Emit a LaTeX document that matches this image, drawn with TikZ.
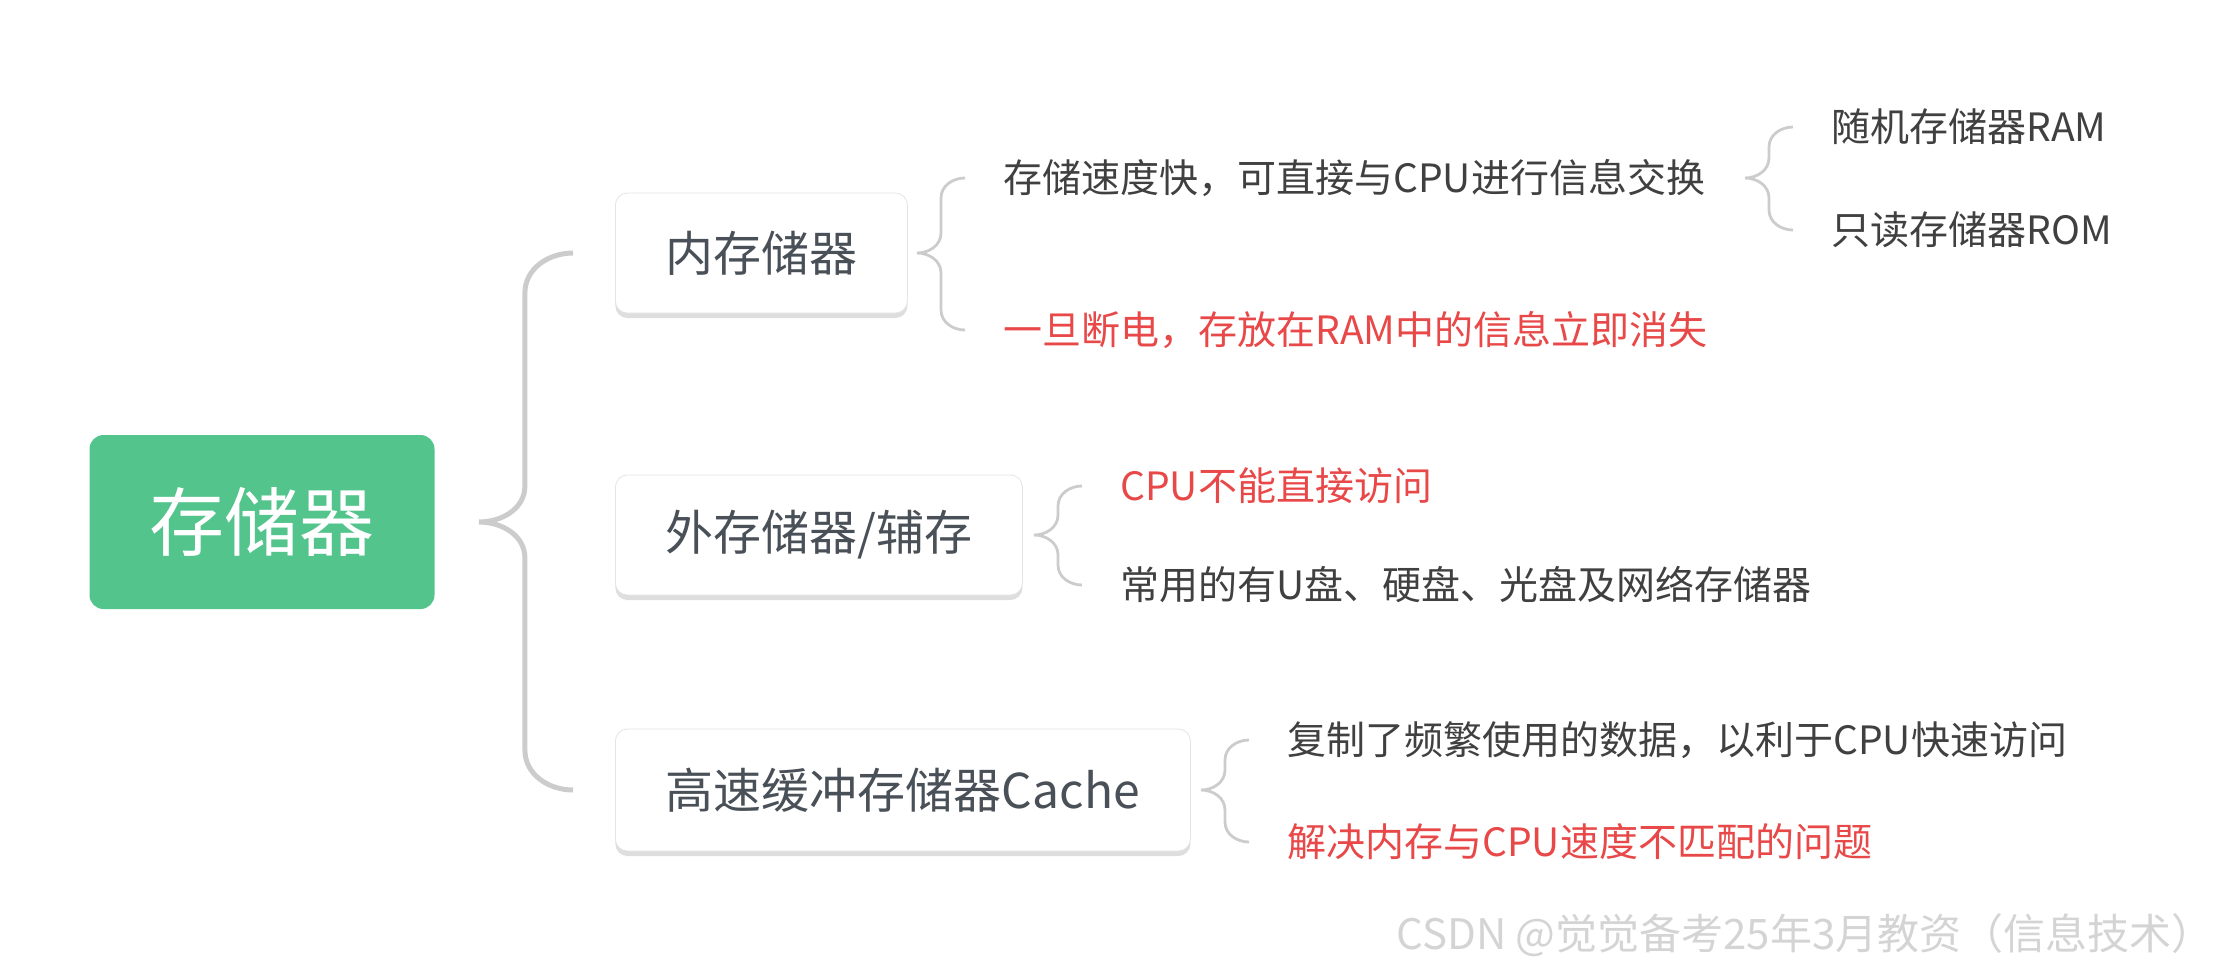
\documentclass[tikz,border=0pt]{standalone}
\usepackage{fontspec}
\setmainfont{Noto Sans CJK SC}
\usepackage{tikz}
\usetikzlibrary{positioning, calc, shadows}
\definecolor{rootgreen}{RGB}{82, 196, 140}
\definecolor{boxtext}{RGB}{73, 80, 87}
\definecolor{leaftext}{RGB}{64, 64, 64}
\definecolor{alertred}{RGB}{232, 72, 72}
\definecolor{braceline}{RGB}{204, 204, 204}
\definecolor{boxborder}{RGB}{228, 228, 228}
\definecolor{boxshadow}{RGB}{222, 222, 222}
\definecolor{markgray}{RGB}{212, 212, 212}

\begin{document}
\begin{tikzpicture}[x=0.5pt, y=-0.5pt,
    rootbox/.style={rectangle, fill=rootgreen, rounded corners=7pt, minimum width=172.5pt, minimum height=87pt, text=white, font=\fontsize{37.5pt}{45pt}\selectfont},
    subbox/.style={rectangle, draw=boxborder, fill=white, rounded corners=6pt, general shadow={fill=boxshadow, shadow yshift=-2.5pt}, minimum height=60pt, inner xsep=0pt, text=boxtext, anchor=west, font=\fontsize{24pt}{29pt}\selectfont},
    leaf/.style={anchor=west, inner sep=0pt, text=leaftext, font=\fontsize{19.5pt}{23pt}\selectfont},
    alertleaf/.style={leaf, text=alertred},
    mainbrace/.style={draw=braceline, line width=2.5pt},
    leafbrace/.style={draw=braceline, line width=1.4pt}]

    \useasboundingbox (0,0) rectangle (2239,970);

    \node [rootbox] (root) at (262,522) {存储器};

    \node [subbox, minimum width=146pt] (inner) at (615,253) {内存储器};
    \node [subbox, minimum width=203.5pt] (outer) at (615,535) {外存储器/辅存};
    \node [subbox, minimum width=287.5pt, minimum height=61pt] (cache) at (615,790) {高速缓冲存储器Cache};

    \node [leaf] (innerfast) at (1003,178) {存储速度快，可直接与CPU进行信息交换};
    \node [alertleaf] (innerlost) at (1003,330) {一旦断电，存放在RAM中的信息立即消失};
    \node [leaf] (ram) at (1831,127) {随机存储器RAM};
    \node [leaf] (rom) at (1831,230) {只读存储器ROM};

    \node [alertleaf] (outercpu) at (1120,486) {CPU不能直接访问};
    \node [leaf] (outerdisk) at (1120,585) {常用的有U盘、硬盘、光盘及网络存储器};

    \node [leaf] (cachecopy) at (1287,740) {复制了频繁使用的数据，以利于CPU快速访问};
    \node [alertleaf] (cachespeed) at (1287,842) {解决内存与CPU速度不匹配的问题};

    \node [anchor=east, inner sep=0pt, text=markgray, font=\fontsize{21pt}{25pt}\selectfont] (mark) at (2214,935) {CSDN @觉觉备考25年3月教资（信息技术）};

    % braces
    \draw [mainbrace] let \p1 = ([xshift=22pt]root.east), \p2 = ([xshift=-21pt]inner.west), \p3 = ([xshift=-21pt]cache.west) in
        (\p2) to[out=180, in=90] (\x1+23pt, \y2-20pt) -- (\x1+23pt, \y1+18pt) to[out=-90, in=0] (\p1)
        to[out=0, in=90] (\x1+23pt, \y1-18pt) -- (\x1+23pt, \y3+20pt) to[out=-90, in=180] (\p3);
    \draw [leafbrace] let \p1 = (inner.east), \p2 = ([xshift=-19pt]innerfast.west), \p3 = ([xshift=-19pt]innerlost.west) in
        (\p2) to[out=180, in=90] (\x2-12pt, \y2-10pt) -- (\x2-12pt, \y1+10pt) to[out=-90, in=0] (\x2-24pt, \y1)
        to[out=0, in=90] (\x2-12pt, \y1-10pt) -- (\x2-12pt, \y3+10pt) to[out=-90, in=180] (\p3);
    \draw [leafbrace] let \p1 = (innerfast.east), \p2 = ([xshift=-19pt]ram.west), \p3 = ([xshift=-19pt]rom.west) in
        (\p2) to[out=180, in=90] (\x2-12pt, \y2-10pt) -- (\x2-12pt, \y1+10pt) to[out=-90, in=0] (\x2-24pt, \y1)
        to[out=0, in=90] (\x2-12pt, \y1-10pt) -- (\x2-12pt, \y3+10pt) to[out=-90, in=180] (\p3);
    \draw [leafbrace] let \p1 = (outer.east), \p2 = ([xshift=-19pt]outercpu.west), \p3 = ([xshift=-19pt]outerdisk.west) in
        (\p2) to[out=180, in=90] (\x2-12pt, \y2-10pt) -- (\x2-12pt, \y1+10pt) to[out=-90, in=0] (\x2-24pt, \y1)
        to[out=0, in=90] (\x2-12pt, \y1-10pt) -- (\x2-12pt, \y3+10pt) to[out=-90, in=180] (\p3);
    \draw [leafbrace] let \p1 = (cache.east), \p2 = ([xshift=-19pt]cachecopy.west), \p3 = ([xshift=-19pt]cachespeed.west) in
        (\p2) to[out=180, in=90] (\x2-12pt, \y2-10pt) -- (\x2-12pt, \y1+10pt) to[out=-90, in=0] (\x2-24pt, \y1)
        to[out=0, in=90] (\x2-12pt, \y1-10pt) -- (\x2-12pt, \y3+10pt) to[out=-90, in=180] (\p3);
\end{tikzpicture}
\end{document}
